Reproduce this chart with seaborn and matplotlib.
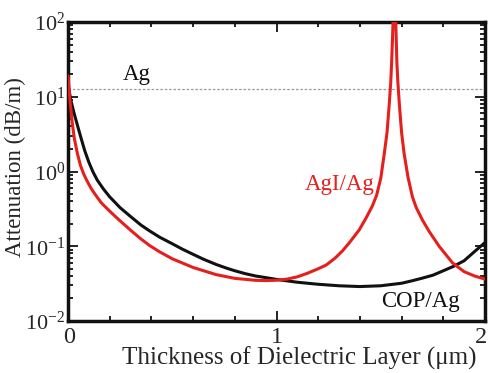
import numpy as np
import pandas as pd
import matplotlib
matplotlib.use("Agg")
import matplotlib.pyplot as plt
import matplotlib.ticker as mticker
from matplotlib.transforms import ScaledTranslation
import seaborn as sns

# ---- data ----
cop_x = [0.0, 0.013, 0.03, 0.045, 0.061, 0.08, 0.10, 0.12, 0.14, 0.17, 0.20, 0.25,
         0.30, 0.35, 0.392, 0.44, 0.50, 0.55, 0.60, 0.65, 0.711, 0.76, 0.80, 0.85,
         0.90, 0.95, 1.00, 1.10, 1.20, 1.30, 1.40, 1.50, 1.60, 1.65, 1.70, 1.75,
         1.80, 1.85, 1.90, 1.95, 2.00]
cop_y = [15.0, 9.1, 5.9, 4.17, 2.9, 1.91, 1.33, 0.986, 0.77, 0.583, 0.458, 0.328,
         0.25, 0.192, 0.160, 0.132, 0.108, 0.091, 0.078, 0.067, 0.057, 0.051, 0.047,
         0.043, 0.040, 0.038, 0.036, 0.033, 0.031, 0.0296, 0.0289, 0.0296, 0.032,
         0.0345, 0.0375, 0.041, 0.047, 0.054, 0.064, 0.085, 0.112]

agi_x = [0.0, 0.01, 0.02, 0.03, 0.045, 0.06, 0.075, 0.09, 0.11, 0.13, 0.16, 0.20,
         0.244, 0.30, 0.35, 0.392, 0.44, 0.50, 0.60, 0.711, 0.80, 0.90, 0.95, 1.00,
         1.05, 1.10, 1.15, 1.20, 1.238, 1.28, 1.317, 1.35, 1.397, 1.43, 1.46, 1.48,
         1.50, 1.517, 1.53, 1.541, 1.548, 1.552, 1.556, 1.56, 1.5655, 1.571, 1.5745,
         1.5775, 1.582, 1.589, 1.600, 1.612, 1.631, 1.652, 1.67, 1.70, 1.732, 1.78,
         1.844, 1.90, 1.95, 2.00]
agi_y = [19.0, 8.5, 4.6, 2.8, 1.74, 1.2, 0.93, 0.76, 0.60, 0.495, 0.38, 0.295,
         0.226, 0.164, 0.125, 0.102, 0.084, 0.068, 0.052, 0.0417, 0.0372, 0.035,
         0.0347, 0.0351, 0.0363, 0.039, 0.0437, 0.050, 0.056, 0.069, 0.087, 0.112,
         0.166, 0.24, 0.347, 0.48, 0.81, 1.74, 3.3, 8.1, 15.8, 28.0, 56.0, 126.0,
         250.0, 126.0, 56.0, 28.0, 15.8, 8.1, 3.3, 1.74, 0.83, 0.457, 0.33, 0.224,
         0.158, 0.10, 0.060, 0.0457, 0.040, 0.0363]

ag_level = 12.7

x_ticks = [0, 1, 2]
x_tick_labels = ["0", "1", "2"]
y_ticks = [1e-2, 1e-1, 1e0, 1e1, 1e2]
y_tick_labels = [r"$\mathregular{10^{-2}}$", r"$\mathregular{10^{-1}}$",
                 r"$\mathregular{10^{0}}$", r"$\mathregular{10^{1}}$",
                 r"$\mathregular{10^{2}}$"]

labels = {"Ag": (0.33, 16.7), "AgI/Ag": (1.305, 0.565), "COP/Ag": (1.688, 0.0155)}

# ---- style ----
sns.set_style("ticks")
plt.rcParams["font.family"] = ["Liberation Serif", "DejaVu Serif"]
plt.rcParams["mathtext.fontset"] = "custom"
plt.rcParams["mathtext.rm"] = "Liberation Serif"
plt.rcParams["mathtext.it"] = "Liberation Serif:italic"

FS = 16.5
BLACK = "#111111"
RED = "#e5201c"

df = pd.concat([
    pd.DataFrame({"x": cop_x, "y": cop_y, "s": "COP/Ag"}),
    pd.DataFrame({"x": agi_x, "y": agi_y, "s": "AgI/Ag"}),
])

fig = plt.figure(figsize=(4.88, 3.73), dpi=100)
ax = fig.add_axes([68 / 488, 1 - 321 / 373, (485 - 68) / 488, (321 - 22) / 373])

ax.axhline(ag_level, color="#9a9a9a", lw=0.9, ls=(0, (2, 1.5)), zorder=1)
sns.lineplot(data=df, x="x", y="y", hue="s", palette={"COP/Ag": BLACK, "AgI/Ag": RED},
             hue_order=["COP/Ag", "AgI/Ag"], lw=2.2, legend=False, ax=ax,
             sort=False, estimator=None, zorder=3)

ax.set_yscale("log")
ax.set_xlim(0, 2)
ax.set_ylim(1e-2, 1e2)

ax.set_xticks(x_ticks)
ax.set_xticklabels(x_tick_labels, fontsize=17.5)
ax.xaxis.set_minor_locator(mticker.MultipleLocator(0.2))
ax.set_yticks(y_ticks)
ax.set_yticklabels(y_tick_labels, fontsize=16)
ax.yaxis.set_minor_locator(mticker.LogLocator(base=10, subs=np.arange(2, 10)))
ax.yaxis.set_minor_formatter(mticker.NullFormatter())

ax.tick_params(which="both", direction="in", top=True, right=True, color=BLACK, width=1.3)
ax.tick_params(which="major", length=7)
ax.tick_params(axis="x", which="major", pad=4)
ax.tick_params(axis="y", which="major", pad=2)
ax.tick_params(which="minor", length=3.5)

first = ax.get_xticklabels()[0]
first.set_transform(first.get_transform() + ScaledTranslation(1 / 72, 0, fig.dpi_scale_trans))
last = ax.get_xticklabels()[-1]
last.set_transform(last.get_transform() + ScaledTranslation(-3 / 72, 0, fig.dpi_scale_trans))

for sp in ax.spines.values():
    sp.set_linewidth(2.5)
    sp.set_color(BLACK)

ax.set_xlabel("Thickness of Dielectric Layer (\u03bcm)", fontsize=18)
ax.xaxis.set_label_coords(0.554, -0.087)
ax.set_ylabel("Attenuation (dB/m)", fontsize=16.5)
ax.yaxis.set_label_coords(-0.1, 0.515)

ax.text(*labels["Ag"], "Ag", fontsize=FS, ha="center", va="baseline", color=BLACK)
ax.text(*labels["AgI/Ag"], "AgI/Ag", fontsize=FS, ha="center", va="baseline", color=RED)
ax.text(*labels["COP/Ag"], "COP/Ag", fontsize=FS, ha="center", va="baseline", color=BLACK)

fig.savefig("out.png", dpi=100)
